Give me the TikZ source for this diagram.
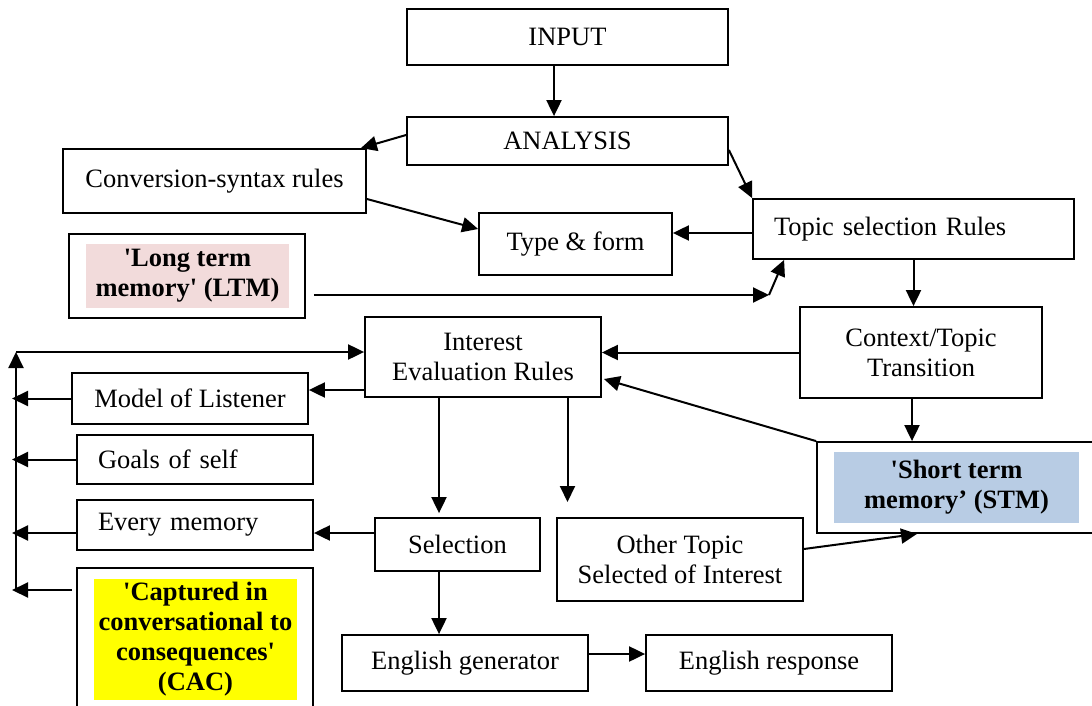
\documentclass[tikz,border=0pt]{standalone}
\usepackage{fontspec}
\setmainfont{Liberation Serif}
\usetikzlibrary{arrows.meta, calc}
\definecolor{ltmpink}{HTML}{F2DBDB}
\definecolor{stmblue}{HTML}{B8CCE4}
\definecolor{cacyellow}{HTML}{FFFF00}
\newcommand{\squote}{\textquotesingle}
\tikzset{box/.style={draw, line width=0.9pt, inner sep=0pt, align=center}}
\tikzset{leftbox/.style={box, align=left, inner xsep=10.5pt}}
\tikzset{shaded/.style={inner sep=0pt, align=center, font=\fontsize{13.25}{15}\selectfont\bfseries}}
\tikzset{arr/.style={line width=1pt, -{Triangle[length=8pt,width=7.5pt]}}}

\begin{document}
\begin{tikzpicture}[x=0.5pt, y=-0.5pt, font=\fontsize{13.25}{15}\selectfont]
  \useasboundingbox (0,0) rectangle (1092,706);

  % Top chain
  \node[box, minimum width=160.5pt, minimum height=28pt] (input) at (567.5,37) {INPUT};
  \node[box, minimum width=160.5pt, minimum height=24pt] (analysis) at (567.5,141) {ANALYSIS};
  \node[box, minimum width=151.5pt, minimum height=32pt] (conv) at (214.5,181) {Conversion-syntax rules};
  \node[box, minimum width=96.5pt, minimum height=31pt] (typeform) at (575.5,244) {Type \& form};
  \node[leftbox, text width=139.5pt, minimum height=30pt] (topic) at (913.5,229) {Topic selection Rules};

  % Memories
  \node[box, minimum width=118pt, minimum height=42pt] (ltm) at (187,276) {};
  \node[shaded, fill=ltmpink, minimum width=101.5pt, minimum height=32pt] (ltmtxt) at (187.5,276)
    {\squote Long term\\memory\squote\ (LTM)};
  \node[box, minimum width=141.5pt, minimum height=45.5pt] (stm) at (958.5,487.5) {};
  \node[shaded, fill=stmblue, minimum width=122.5pt, minimum height=35.5pt] (stmtxt) at (956.5,487.5)
    {\squote Short term\\memory’ (STM)};

  % Middle
  \node[box, minimum width=118pt, minimum height=40pt] (interest) at (483,357) {Interest\\Evaluation Rules};
  \node[box, minimum width=121.25pt, minimum height=45.5pt] (context) at (921,352.5) {Context/Topic\\Transition};
  \node[box, minimum width=118pt, minimum height=25.5pt] (model) at (190,398.5) {Model of Listener};
  \node[leftbox, text width=97pt, minimum height=24.5pt] (goals) at (195,459.5) {Goals of self};
  \node[leftbox, text width=97pt, minimum height=25pt] (every) at (195,525) {Every memory};
  \node[box, minimum width=118pt, minimum height=73pt] (cac) at (195,641) {};
  \node[shaded, fill=cacyellow, minimum width=101.5pt, minimum height=60.5pt] (cactxt) at (195.5,639.5)
    {\squote Captured in\\conversational to\\consequences\squote\\(CAC)};

  % Bottom
  \node[box, minimum width=82.5pt, minimum height=26.5pt] (selection) at (457.5,544.5) {Selection};
  \node[box, minimum width=123pt, minimum height=41.5pt] (other) at (680,559.5) {Other Topic\\Selected of Interest};
  \node[box, minimum width=123pt, minimum height=28pt] (enggen) at (465,663) {English generator};
  \node[box, minimum width=123pt, minimum height=28pt] (engresp) at (769,663) {English response};

  \coordinate (ltmbend) at (769,295);
  \coordinate (bustop) at (16,352);
  \coordinate (busbottom) at (16,590);
  \coordinate (openend) at (567.5,502);

  % Arrows, top
  \draw[arr] ([xshift=-6.75pt]input.south) -- ([xshift=-6.75pt]analysis.north);
  \draw[arr] ([yshift=3pt]analysis.west) -- ([xshift=-3pt]conv.north east);
  \draw[arr] ([yshift=-4.5pt]analysis.east) -- (topic.north west);
  \draw[arr] ([yshift=-9pt]conv.east) -- ([yshift=7.5pt]typeform.west);
  \draw[arr] ([yshift=-2pt]topic.west) -- ([yshift=-2pt]topic.west -| typeform.east);
  \draw[arr] ([shift={(4pt,-9.5pt)}]ltm.east) -- (ltmbend);
  \draw[arr] (ltmbend) -- ([xshift=16pt]topic.south west);
  \draw[arr] (topic.south) -- (topic.south |- context.north);

  % Arrows, right side
  \draw[arr] (context.west) -- (context.west -| interest.east);
  \draw[arr] ([xshift=-4.5pt]context.south) -- ([xshift=-4.5pt]context.south |- stm.north);
  \draw[arr] (stm.north west) -- ([shift={(1pt,-11pt)}]interest.east);
  \draw[arr] ([yshift=5.25pt]other.east) -- ([xshift=-20.75pt]stm.south);

  % Left bus
  \draw[arr] (busbottom) -- (bustop);
  \draw[arr] (bustop) -- (bustop -| interest.west);
  \draw[arr] (model.west) -- ([xshift=-2pt]model.west -| bustop);
  \draw[arr] (goals.west) -- ([xshift=-2pt]goals.west -| bustop);
  \draw[arr] ([yshift=-4pt]every.west) -- ([xshift=-2pt,yshift=-4pt]every.west -| bustop);
  \draw[arr] ([xshift=-2pt]cac.west |- busbottom) -- ([xshift=-2pt]busbottom);

  % Arrows, from interest down
  \draw[arr] ([yshift=-16.5pt]interest.west) -- ([yshift=-16.5pt]interest.west -| model.east);
  \draw[arr] ([xshift=-22pt]interest.south) -- ([xshift=-22pt,yshift=2pt]interest.south |- selection.north);
  \draw[arr] (interest.south -| openend) -- (openend);
  \draw[arr] ([yshift=5.75pt]selection.west) -- ([yshift=5.75pt]selection.west -| every.east);
  \draw[arr] ([xshift=-9.25pt]selection.south) -- ([xshift=-9.25pt]selection.south |- enggen.north);
  \draw[arr] ([yshift=4.5pt]enggen.east) -- ([yshift=4.5pt]enggen.east -| engresp.west);
\end{tikzpicture}
\end{document}
